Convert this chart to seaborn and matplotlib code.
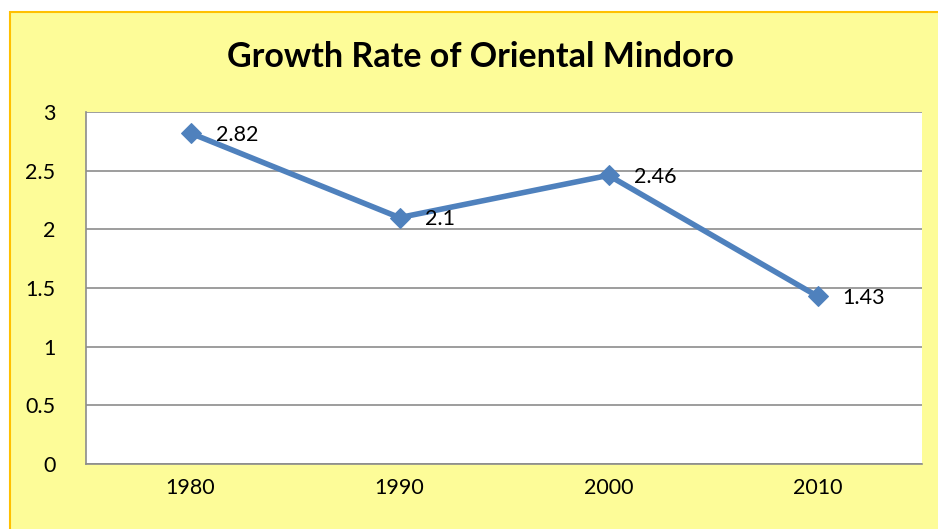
import matplotlib
matplotlib.use("Agg")
import matplotlib.pyplot as plt
import seaborn as sns
import pandas as pd
from matplotlib.patches import Rectangle

years = ["1980", "1990", "2000", "2010"]
growth_rate = [2.82, 2.1, 2.46, 1.43]
y_ticks = [0, 0.5, 1, 1.5, 2, 2.5, 3]

sns.set_theme(style="white")
plt.rcParams['font.family'] = ['Lato', 'DejaVu Sans']

W, H = 938, 529
fig = plt.figure(figsize=(W / 100, H / 100), dpi=100)
fig.patch.set_facecolor("white")

# yellow chart area with gold border (runs past the right/bottom edge)
fig.patches.append(Rectangle((10 / W, -0.05), 1.0, 1 - 12 / H + 0.05,
                             transform=fig.transFigure, facecolor="#FDFC98",
                             edgecolor="#FFC000", linewidth=1.5, zorder=-10))

ax = fig.add_axes([86 / W, 1 - 464 / H, (922 - 86) / W, (464 - 112) / H])
ax.set_facecolor("white")

df = pd.DataFrame({"year": years, "rate": growth_rate})
df["pos"] = range(len(years))
sns.lineplot(data=df, x="pos", y="rate", ax=ax, color="#4F81BD", linewidth=4,
             marker="D", markersize=10, markeredgecolor="#4F81BD", zorder=3)

for i, v in enumerate(growth_rate):
    ax.annotate(f"{v:g}", (i, v), xytext=(18, -1), textcoords="offset points",
                va="center", ha="left", fontsize=15.5, color="black", zorder=4)

ax.set_xlim(-0.5, len(years) - 0.5)
ax.set_ylim(0, 3)
ax.set_xticks(range(len(years)))
ax.set_xticklabels(years)
ax.set_yticks(y_ticks)
ax.set_yticklabels([f"{t:g}" for t in y_ticks])
ax.tick_params(axis="both", labelsize=15.5, length=0, colors="black", pad=10)
ax.tick_params(axis="y", pad=22)
ax.yaxis.grid(True, color="#8C8C8C", linewidth=1.2)
ax.set_axisbelow(True)
ax.set_xlabel("")
ax.set_ylabel("")
for s in ["top", "right"]:
    ax.spines[s].set_visible(False)
for s in ["left", "bottom"]:
    ax.spines[s].set_color("#8C8C8C")
    ax.spines[s].set_linewidth(1.2)

fig.text(480 / W, 1 - 57 / H, "Growth Rate of Oriental Mindoro",
         ha="center", va="center", fontsize=24.5, fontweight="bold", color="black")

fig.savefig("out.png", dpi=100)
